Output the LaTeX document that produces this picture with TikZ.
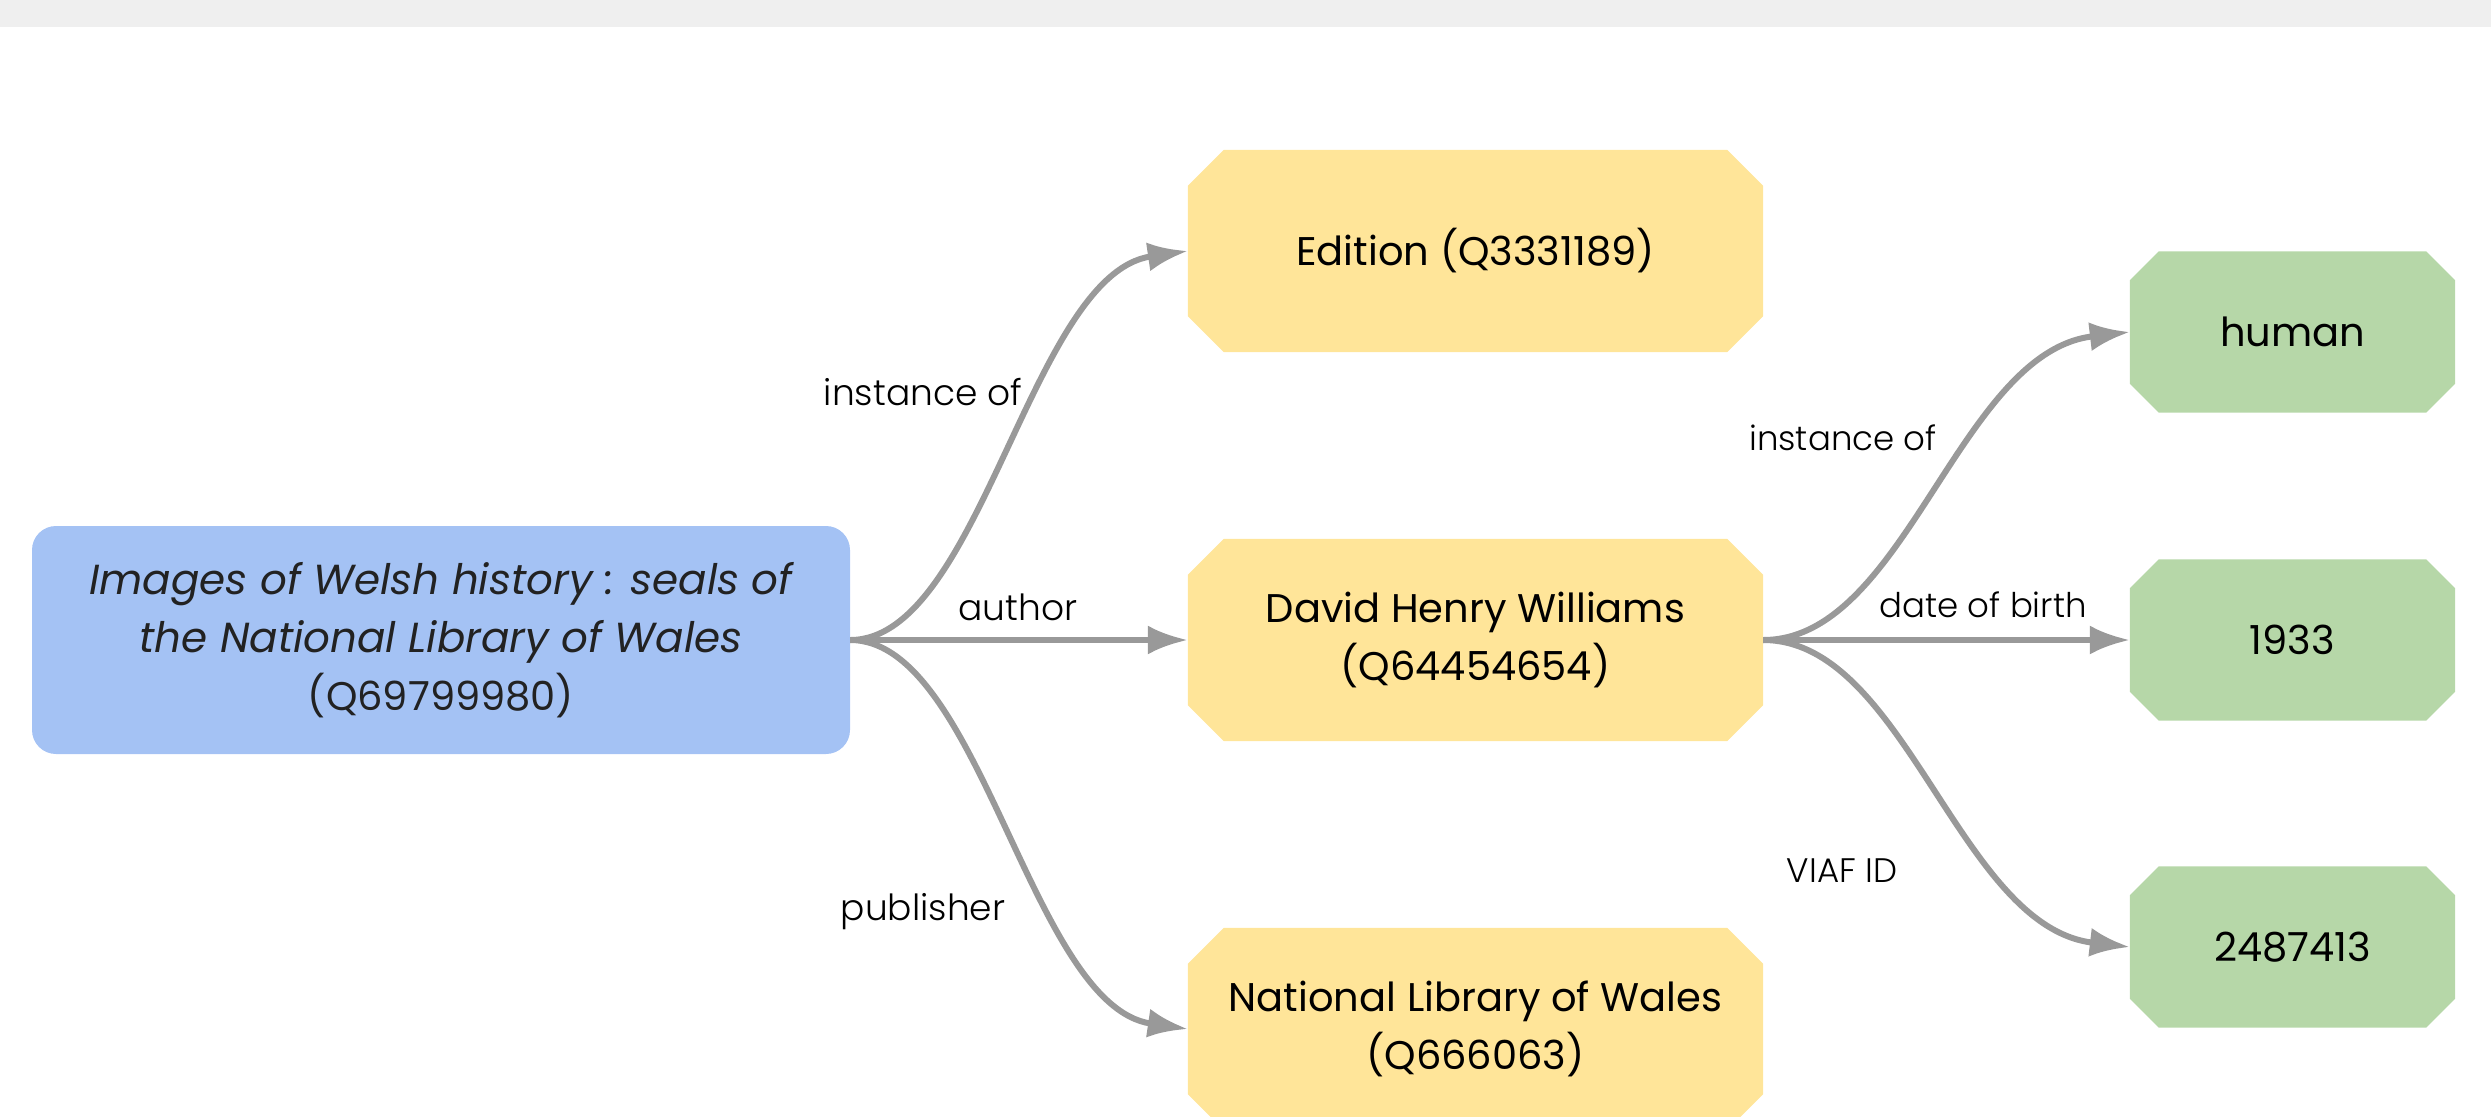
\documentclass[tikz,border=0pt]{standalone}
\usepackage{fontspec}
\setmainfont{Poppins}
\newfontfamily\lightfont{Poppins Light}
\usetikzlibrary{arrows.meta,calc,backgrounds}
\definecolor{bluebox}{HTML}{A4C2F4}
\definecolor{yelbox}{HTML}{FFE599}
\definecolor{grnbox}{HTML}{B6D7A8}
\definecolor{edgecol}{HTML}{999999}
\definecolor{barcol}{HTML}{EFEFEF}
\definecolor{txtcol}{HTML}{222222}
\tikzset{
  srcbox/.style={rectangle, rounded corners=24pt, fill=bluebox, minimum width=818pt, minimum height=228pt, inner sep=0pt, align=center, text=txtcol, font=\fontsize{42}{58}\selectfont\itshape},
  itembox/.style={rectangle, minimum width=575pt, minimum height=202pt, inner sep=0pt, align=center, font=\fontsize{40}{58}\selectfont},
  valbox/.style={rectangle, minimum width=325pt, minimum height=161pt, inner sep=0pt, align=center, font=\fontsize{40}{58}\selectfont},
  lblL/.style={anchor=base, inner sep=0pt, font=\lightfont\fontsize{36}{40}\selectfont},
  lblR/.style={anchor=base, inner sep=0pt, font=\lightfont\fontsize{34}{40}\selectfont},
  edge/.style={draw=edgecol, line width=6pt, -{Latex[length=40pt,width=29pt]}},
}
\begin{document}
\begin{tikzpicture}[x=1pt,y=-1pt]
\useasboundingbox (0,0) rectangle (2491,1116);
\fill[barcol] (0,0) rectangle (2491,27);
% nodes
\node[srcbox] (src) at (441,640) {Images of Welsh history : seals of\\the National Library of Wales\\\fontsize{40}{58}\selectfont\upshape(Q69799980)};
\node[itembox] (ed) at (1475.5,251) {Edition (Q3331189)};
\node[itembox] (dav) at (1475.5,640) {David Henry Williams\\(Q64454654)};
\node[itembox] (nlw) at (1475.5,1029) {National Library of Wales\\(Q666063)};
\node[valbox] (hum) at (2292.5,332) {human};
\node[valbox] (yr) at (2292.5,640) {1933};
\node[valbox] (viaf) at (2292.5,947) {2487413};
% chamfered fills
\begin{scope}[on background layer]
\foreach \n/\c/\s in {ed/yelbox/36, dav/yelbox/36, nlw/yelbox/36, hum/grnbox/29, yr/grnbox/29, viaf/grnbox/29}{
  \fill[\c] ($(\n.north west)+(\s,0)$) -- ($(\n.north east)+(-\s,0)$) -- ($(\n.north east)+(0,\s)$)
    -- ($(\n.south east)+(0,-\s)$) -- ($(\n.south east)+(-\s,0)$) -- ($(\n.south west)+(\s,0)$)
    -- ($(\n.south west)+(0,-\s)$) -- ($(\n.north west)+(0,\s)$) -- cycle;
}
\end{scope}
% edges
\draw[edge] (src.east) .. controls +(130,0) and +(-157,23) .. (ed.west);
\draw[edge] (src.east) -- (dav.west);
\draw[edge] (src.east) .. controls +(130,0) and +(-157,-23) .. (nlw.west);
\draw[edge] (dav.east) .. controls +(142,0) and +(-171,20) .. (hum.west);
\draw[edge] (dav.east) -- (yr.west);
\draw[edge] (dav.east) .. controls +(142,0) and +(-171,-20) .. (viaf.west);
% labels
\node[lblL] (l1) at (923,405) {instance of};
\node[lblL] (l2) at (1018,620) {author};
\node[lblL] (l3) at (923,920) {publisher};
\node[lblR] (l4) at (1843,450) {instance of};
\node[lblR] (l5) at (1983,617) {date of birth};
\node[lblR] (l6) at (1842,882) {VIAF ID};
\end{tikzpicture}
\end{document}
